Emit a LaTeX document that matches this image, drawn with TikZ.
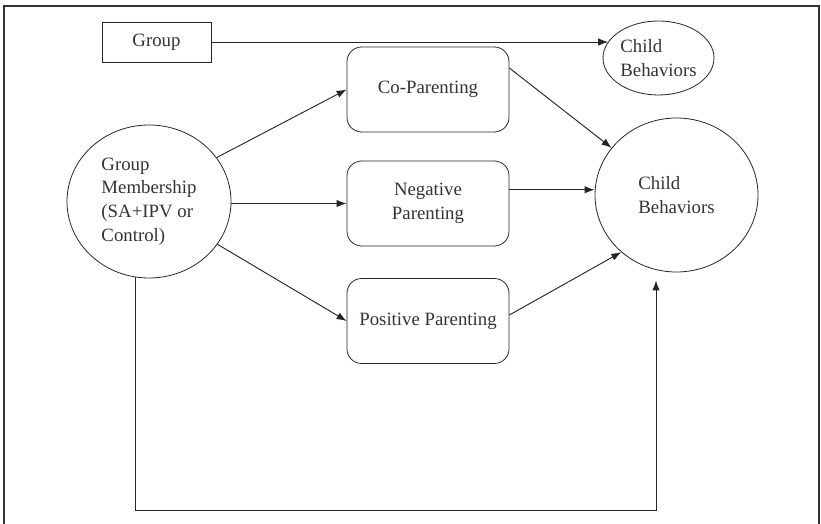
\documentclass[tikz,border=0pt]{standalone}
\usepackage{fontspec}
\setmainfont{Liberation Serif}
\usetikzlibrary{arrows.meta}
\usetikzlibrary{calc}
\usetikzlibrary{shapes.geometric}

\begin{document}
\begin{tikzpicture}[
    x=0.75pt,y=-0.75pt,
    >={Latex[length=7.5pt,width=5.5pt]},
    main node/.style={align=left,font=\fontsize{14.1}{17.8}\selectfont,text=black!80},
    latent/.style={main node,draw=black!85,ellipse,inner sep=0pt,line width=0.6pt},
    block/.style={main node,draw=black!85,rounded corners=11pt,minimum width=121.5pt,minimum height=63.75pt,align=center,line width=0.6pt},
    path link/.style={line width=0.7pt,black!85,->}
    ]
    \useasboundingbox (0,0) rectangle (821,524);
    % frame
    \draw [line width=0.9pt,black!80] (4,524) -- (4,6) -- (819,6) -- (819,524);
    % nodes
    \node [main node,draw=black!85,line width=0.6pt,minimum width=81.75pt,minimum height=30pt] (grp) at (156.5,42) {Group};
    \node [latent,minimum width=83.25pt,minimum height=55.5pt] (cbsmall) at (658.5,58) {Child\\Behaviors};
    \node [latent,minimum width=123pt,minimum height=114.75pt] (gm) at (149,201.5) {Group\\Membership\\(SA+IPV or\\Control)};
    \node [latent,minimum width=122.25pt,minimum height=115.5pt] (cb) at (676.5,195) {Child\\Behaviors};
    \node [block] (copar) at (428,89.5) {Co-Parenting};
    \node [block] (negpar) at (428,203.5) {Negative\\Parenting};
    \node [block] (pospar) at (428,321) {Positive Parenting};
    % arcs
    % group - child behaviors
    \draw [path link] (grp.east) -- (grp.east -| cbsmall.162);
    % membership - parenting
    \draw [path link] (gm.33) -- (copar.west);
    \draw [path link] (negpar.west -| gm.east) -- (negpar.west);
    \draw [path link] (gm.-32) -- (pospar.west);
    % parenting - child behaviors
    \draw [path link] ($(copar.north east)!0.25!(copar.south east)$) -- (cb.144);
    \coordinate (negout) at ($(negpar.north east)!0.34!(negpar.south east)$);
    \draw [path link] (negout) -- (negout -| cb.west);
    \draw [path link] ($(pospar.north east)!0.43!(pospar.south east)$) -- (cb.226);
    % direct path
    \coordinate (base) at (656,510);
    \draw [path link] (gm.260) |- (base) -- ($(base |- cb.south)+(0,8)$);
\end{tikzpicture}
\end{document}
